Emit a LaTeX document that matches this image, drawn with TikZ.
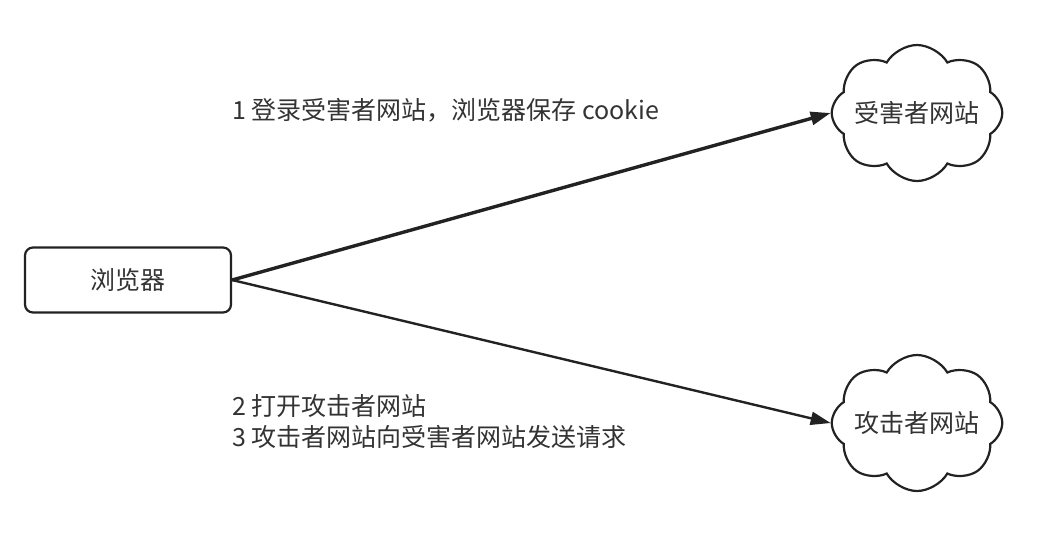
\documentclass[tikz,border=0pt]{standalone}
\usepackage{fontspec}
\setmainfont{Noto Sans CJK SC}
\usepackage{tikz}
\usetikzlibrary{arrows.meta,shapes.symbols}
\definecolor{txt}{HTML}{333333}
\definecolor{edge}{HTML}{222222}

\begin{document}
\begin{tikzpicture}[
  x=0.5pt,y=-0.5pt,
  box/.style={draw=edge,rounded corners=4pt,minimum width=103pt,minimum height=32.5pt,font=\fontsize{12.5}{15}\selectfont,text=txt,line width=1.1pt},
  site/.style={draw=edge,cloud,cloud puffs=8,cloud puff arc=120,cloud ignores aspect,inner sep=0pt,minimum width=82pt,minimum height=68pt,line width=1.1pt,font=\fontsize{12.5}{15}\selectfont,text=txt},
  lbl/.style={anchor=west,align=left,font=\fontsize{12.5}{15.5}\selectfont,text=txt,inner sep=0pt},
  arr/.style={-{Triangle[length=10pt,width=6.5pt]},draw=edge},
]
\useasboundingbox (0,0) rectangle (1042,532);
\node[box] (browser) at (128,280) {浏览器};
\node[site] (victim) at (917,113) {受害者网站};
\node[site] (attacker) at (917,423) {攻击者网站};

\draw[arr,line width=1.7pt] (browser.east) -- (victim.west);
\draw[arr,line width=1.2pt] (browser.east) -- (attacker.west);

\node[lbl] (step1) at (232,110) {1 登录受害者网站，浏览器保存 cookie};
\node[lbl] (step23) at (232,422) {2 打开攻击者网站\\3 攻击者网站向受害者网站发送请求};
\end{tikzpicture}
\end{document}
